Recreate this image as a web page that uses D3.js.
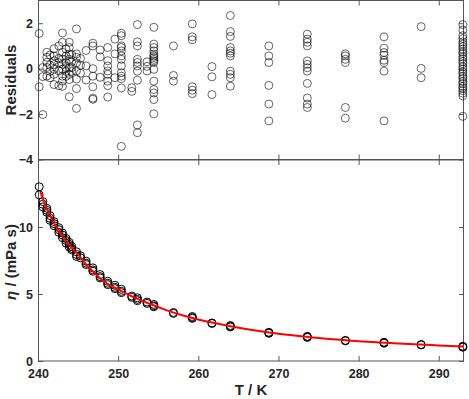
<!DOCTYPE html>
<html lang="en">
<head>
<meta charset="utf-8">
<title>Viscosity fit</title>
<script src="https://cdnjs.cloudflare.com/ajax/libs/d3/7.8.5/d3.min.js"></script>
<style>
  body { margin: 0; background: #fff; }
  svg text { font-family: "Liberation Sans", Arial, sans-serif; font-weight: bold; fill: #262626; }
  .axis line { stroke: #555; }
  .axis path { display: none; }
  .box { fill: none; stroke: #555; stroke-width: 1; }
</style>
</head>
<body>
<script>
// measurement temperatures (K), grouped
var tempGroups = [240.15, 240.6, 241.1, 241.5, 242.0, 242.6, 243.05, 243.5, 243.9, 244.2,
  244.8, 245.3, 246.0, 246.85, 247.75, 248.7, 249.6, 250.4, 251.7, 252.4,
  253.6, 254.45, 256.9, 259.25, 261.7, 264.0, 268.8, 273.6, 278.35, 283.17,
  287.8, 293.0];

// residuals at each temperature
var residGroups = [
  [1.55, -0.80],
  [0.05, -0.35, -2.02],
  [0.72, 0.50, 0.28, 0.05, -0.33],
  [0.60, 0.15, -0.12, -0.40],
  [0.88, 0.56, 0.35, 0.18, -0.03, -0.25, -0.70],
  [1.00, 0.45, 0.26, -0.10, -0.75],
  [1.57, 1.16, 0.72, 0.41, 0.19, -0.03, -0.33, -0.55, -0.78],
  [0.86, 0.56, 0.27, 0.04, -0.12, -0.34],
  [1.16, 0.93, 0.64, 0.41, 0.04, -0.25, -0.48, -1.24],
  [0.62, 0.30, 0.05, -0.12],
  [1.75, 0.65, 0.50, 0.25, -0.10, -0.46, -0.88, -1.75],
  [0.45, 0.15, -0.20],
  [0.80, 0.12, -0.50],
  [1.12, 1.00, 0.00, -0.33, -0.80, -1.30, -1.35],
  [0.82, 0.52, -0.38],
  [0.93, 0.35, 0.12, -0.10, -0.25, -0.55, -0.75, -1.25],
  [1.30, 0.65, -0.40],
  [1.56, 1.45, 1.00, 0.93, 0.78, 0.56, 0.41, 0.12, -0.18, -0.33, -0.44, -0.85, -3.42],
  [-0.84, -1.00],
  [1.94, 1.18, 1.00, 0.41, 0.27, 0.12, -0.11, -0.51, -2.48, -2.82],
  [0.30, 0.10, -0.10],
  [1.82, 1.08, 0.93, 0.78, 0.64, 0.56, 0.49, 0.41, 0.34, 0.27, -0.03, -0.55, -0.92, -1.07, -1.36, -1.99],
  [1.00, -0.30, -0.55],
  [1.97, 1.40, 1.27, -0.80, -0.95, -1.10],
  [0.09, -0.36, -1.14],
  [2.34, 1.63, 1.42, 0.93, 0.78, 0.68, 0.56, -0.11, -0.25, -0.40, -0.77],
  [1.00, 0.56, 0.27, -0.74, -1.56, -2.30],
  [1.52, 1.30, 1.16, 1.00, 0.34, 0.19, 0.04, -0.11, -0.65, -1.29, -1.56, -1.71],
  [0.65, 0.56, 0.41, 0.27, -1.71, -2.18],
  [1.40, 0.90, 0.71, 0.59, 0.37, 0.27, -0.11, -2.30],
  [1.85, 0.01, -0.40],
  [1.94, 1.70, 1.45, 1.32, 1.18, 1.08, 0.97, 0.86, 0.74, 0.66, 0.52, 0.43, 0.31, 0.22, 0.08,
   -0.02, -0.14, -0.23, -0.35, -0.44, -0.57, -0.66, -0.78, -0.86, -0.97, -1.08, -1.20, -2.10]
];

// measured viscosity (mPa s) at each temperature
var etaGroups = [
  [13.0, 12.4], [11.9, 11.7, 11.5], [11.4, 11.25, 11.1], [10.85, 10.65, 10.5], [10.4, 10.25, 10.1],
  [9.95, 9.8, 9.6], [9.55, 9.4, 9.2], [9.15, 9.0, 8.8], [8.85, 8.7, 8.5], [8.55, 8.4, 8.3],
  [8.15, 7.95, 7.8], [7.85, 7.7], [7.45, 7.3, 7.2], [6.95, 6.8, 6.7], [6.45, 6.3, 6.2],
  [5.95, 5.8, 5.7], [5.65, 5.5, 5.4], [5.35, 5.2, 5.1], [4.85, 4.75], [4.72, 4.6, 4.5],
  [4.4, 4.3], [4.22, 4.12, 4.05], [3.62, 3.55], [3.32, 3.24, 3.18], [2.84, 2.8],
  [2.65, 2.58, 2.54], [2.14, 2.1, 2.07], [1.84, 1.8, 1.76], [1.54, 1.5], [1.4, 1.36, 1.33],
  [1.23, 1.2], [1.1, 1.06, 1.03]
];

// fitted curve
var fitT = [240.3, 241, 242, 243, 244, 245, 246, 247, 248, 249, 250, 252, 254, 256, 258, 260,
  264, 268, 272, 276, 280, 285, 290, 293.15];
var fitEta = [12.6, 11.5, 10.3, 9.35, 8.6, 7.95, 7.2, 6.6, 6.05, 5.65, 5.35, 4.75, 4.25, 3.8, 3.42, 3.1,
  2.6, 2.2, 1.9, 1.66, 1.48, 1.3, 1.16, 1.08];

var xTicks = [240, 250, 260, 270, 280, 290];
var resTicks = [-4, -2, 0, 2];
var etaTicks = [0, 5, 10];

var W = 469, H = 399;
var left = 38, right = 464;

var svg = d3.select("body").append("svg")
  .attr("width", W).attr("height", H);

var x = d3.scaleLinear().domain([240, 293.15]).range([left, right]);
var yRes = d3.scaleLinear().domain([-4, 3]).range([159.5, 0.5]);
var yEta = d3.scaleLinear().domain([0, 15]).range([361, 160]);

function drawFrame(y, yTicks, showX) {
  var r = y.range();
  var g = svg.append("g");
  g.append("rect").attr("class", "box")
    .attr("x", left + 0.5).attr("y", Math.min(r[0], r[1]))
    .attr("width", right - left - 1).attr("height", Math.abs(r[0] - r[1]));

  g.append("g").attr("class", "axis")
    .attr("transform", "translate(0," + r[0] + ")")
    .call(d3.axisBottom(x).tickValues(xTicks).tickSize(-5).tickPadding(8)
      .tickFormat(showX ? d3.format("d") : ""));
  g.append("g").attr("class", "axis")
    .attr("transform", "translate(0," + r[1] + ")")
    .call(d3.axisTop(x).tickValues(xTicks).tickSize(-5).tickFormat(""));
  g.append("g").attr("class", "axis")
    .attr("transform", "translate(" + left + ",0)")
    .call(d3.axisLeft(y).tickValues(yTicks).tickSize(-5).tickPadding(5).tickFormat(d3.format("d")));
  g.append("g").attr("class", "axis")
    .attr("transform", "translate(" + right + ",0)")
    .call(d3.axisRight(y).tickValues(yTicks).tickSize(-5).tickFormat(""));
  g.selectAll(".axis text").style("font-size", "12.5px")
    .style("font-family", "'Liberation Sans', Arial, sans-serif").style("font-weight", "bold")
    .attr("fill", "#262626");
}

drawFrame(yRes, resTicks, false);
drawFrame(yEta, etaTicks, true);

// flatten groups into points
var resPts = [], etaPts = [];
tempGroups.forEach(function(t, i) {
  residGroups[i].forEach(function(v) { resPts.push({t: t, v: v}); });
  etaGroups[i].forEach(function(v) { etaPts.push({t: t, v: v}); });
});

svg.append("g").selectAll("circle").data(resPts).enter().append("circle")
  .attr("cx", function(d) { return x(d.t); })
  .attr("cy", function(d) { return yRes(d.v); })
  .attr("r", 4)
  .attr("fill", "none").attr("stroke", "#000").attr("stroke-width", 0.6);

svg.append("g").selectAll("circle").data(etaPts).enter().append("circle")
  .attr("cx", function(d) { return x(d.t); })
  .attr("cy", function(d) { return yEta(d.v); })
  .attr("r", 4)
  .attr("fill", "none").attr("stroke", "#000").attr("stroke-width", 1);

var line = d3.line()
  .x(function(d, i) { return x(fitT[i]); })
  .y(function(d) { return yEta(d); })
  .curve(d3.curveMonotoneX);

svg.append("path").datum(fitEta)
  .attr("d", line)
  .attr("fill", "none").attr("stroke", "#f00").attr("stroke-width", 2);

// axis titles
svg.append("text")
  .attr("transform", "translate(16,80) rotate(-90)")
  .attr("text-anchor", "middle").style("font-size", "15px")
  .text("Residuals");

var yl = svg.append("text")
  .attr("transform", "translate(16,262) rotate(-90)")
  .attr("text-anchor", "middle").style("font-size", "15px");
yl.append("tspan").style("font-style", "italic").text("η");
yl.append("tspan").text(" / (mPa s)");

svg.append("text")
  .attr("x", (left + right) / 2).attr("y", 395)
  .attr("text-anchor", "middle").style("font-size", "15px")
  .text("T / K");
</script>
</body>
</html>
